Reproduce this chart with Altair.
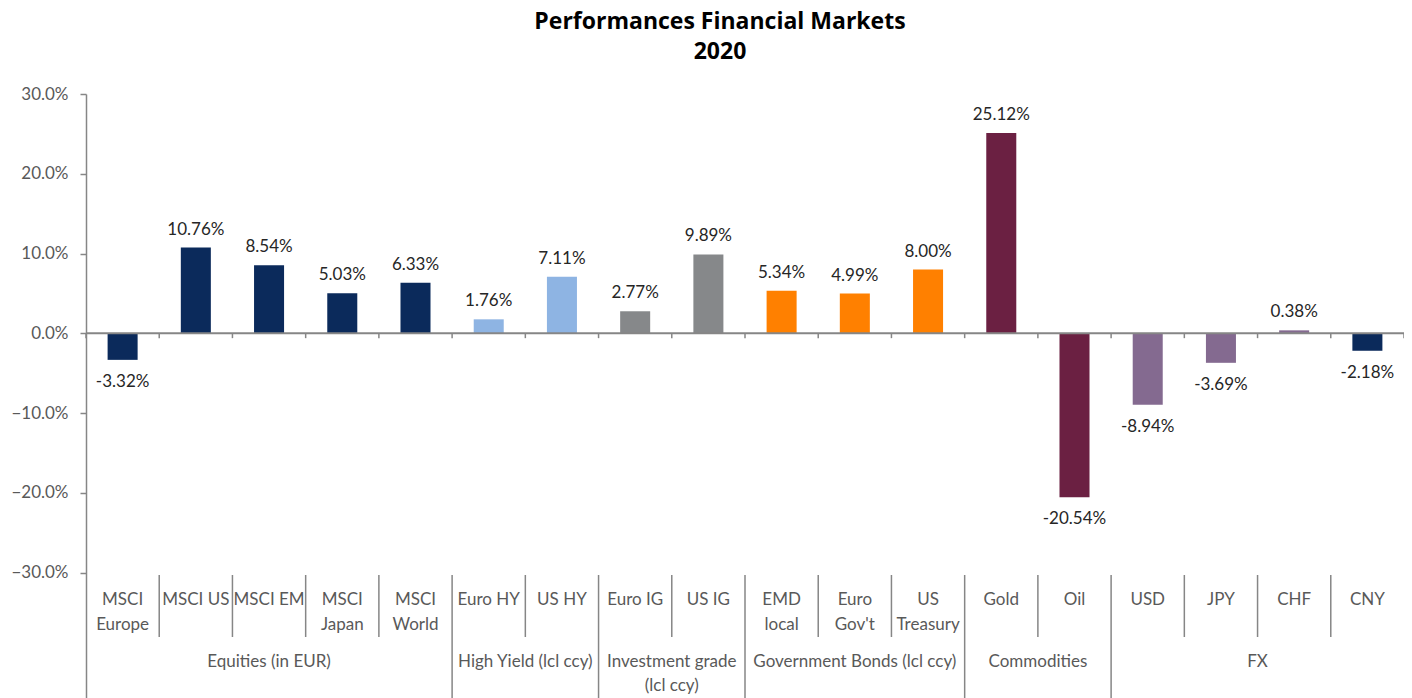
import altair as alt
import pandas as pd

categories = ["MSCI\nEurope", "MSCI US", "MSCI EM", "MSCI\nJapan", "MSCI\nWorld",
              "Euro HY", "US HY", "Euro IG", "US IG",
              "EMD\nlocal", "Euro\nGov't", "US\nTreasury",
              "Gold", "Oil", "USD", "JPY", "CHF", "CNY"]
values = [-3.32, 10.76, 8.54, 5.03, 6.33, 1.76, 7.11, 2.77, 9.89,
          5.34, 4.99, 8.00, 25.12, -20.54, -8.94, -3.69, 0.38, -2.18]
groups = ["Equities (in EUR)", "High Yield (lcl ccy)", "Investment grade\n(lcl ccy)",
          "Government Bonds (lcl ccy)", "Commodities", "FX"]
group_sizes = [5, 2, 2, 3, 2, 4]
y_ticks = [-0.3, -0.2, -0.1, 0.0, 0.1, 0.2, 0.3]

bar_colors = ["#0b2a5b"] * 5 + ["#8eb4e3"] * 2 + ["#86888a"] * 2 + ["#ff8000"] * 3 + \
             ["#6b2042"] * 2 + ["#846a90"] * 3 + ["#0b2a5b"]

FONT = "Lato"
FS = 17
W, H = 1318, 604
PX_PER_UNIT = 797.9
y_top = 0.30
y_bottom = y_top - H / PX_PER_UNIT

n = len(categories)
df = pd.DataFrame({
    "cat": categories,
    "value": [v / 100 for v in values],
    "idx": list(range(n)),
})
df["center"] = df["idx"] + 0.5
df["x0"] = df["idx"] + 0.5 - 0.205
df["x1"] = df["idx"] + 0.5 + 0.205
df["label"] = [f"{v:.2f}%" for v in values]
df["color"] = bar_colors

starts = []
s = 0
for g in group_sizes:
    starts.append(s)
    s += g
gdf = pd.DataFrame({"group": groups, "start": starts, "size": group_sizes})
gdf["center"] = gdf["start"] + gdf["size"] / 2

group_bounds = set(starts[1:])
short_b = [b for b in range(1, n) if b not in group_bounds]
long_b = sorted(group_bounds)
sep_short = pd.DataFrame({"b": short_b})
sep_long = pd.DataFrame({"b": long_b})
ticks_df = pd.DataFrame({"b": list(range(0, n + 1))})

xs = alt.Scale(domain=[0, n], nice=False, zero=False)
ys = alt.Scale(domain=[y_bottom, y_top], nice=False, zero=False)

base = alt.Chart(df)

bars = base.mark_bar().encode(
    x=alt.X("x0:Q", scale=xs, axis=None),
    x2="x1:Q",
    y=alt.Y("value:Q", scale=ys,
            axis=alt.Axis(values=y_ticks, format=".1%", grid=False, title=None,
                          domainColor="#868686", domainWidth=1.5, tickColor="#868686",
                          tickSize=6, tickWidth=1.5, labelColor="#595959", labelFont=FONT,
                          labelFontSize=FS, labelPadding=12)),
    y2=alt.datum(0),
    color=alt.Color("color:N", scale=None),
)

pos_labels = base.transform_filter("datum.value >= 0").mark_text(
    font=FONT, fontSize=FS, color="#262626", baseline="alphabetic", dy=-13
).encode(x=alt.X("center:Q", scale=xs), y=alt.Y("value:Q", scale=ys), text="label:N")

neg_labels = base.transform_filter("datum.value < 0").mark_text(
    font=FONT, fontSize=FS, color="#262626", baseline="top", dy=14
).encode(x=alt.X("center:Q", scale=xs), y=alt.Y("value:Q", scale=ys), text="label:N")

zero_line = alt.Chart(ticks_df).mark_rule(color="#868686", strokeWidth=2).encode(
    x=alt.datum(0, scale=xs), x2=alt.datum(n), y=alt.datum(0, scale=ys)
).transform_filter("datum.b == 0")

zero_ticks = alt.Chart(ticks_df).mark_rule(color="#868686", strokeWidth=1.5).encode(
    x=alt.X("b:Q", scale=xs), y=alt.datum(0, scale=ys), y2=alt.datum(-0.006)
)

short_lines = alt.Chart(sep_short).mark_rule(color="#868686", strokeWidth=1.5).encode(
    x=alt.X("b:Q", scale=xs), y=alt.value(481), y2=alt.value(543)
)
long_lines = alt.Chart(sep_long).mark_rule(color="#868686", strokeWidth=1.5).encode(
    x=alt.X("b:Q", scale=xs), y=alt.value(481), y2=alt.value(H)
)

cat_labels = base.mark_text(
    font=FONT, fontSize=FS, color="#595959", baseline="middle", lineBreak="\n", lineHeight=25
).encode(x=alt.X("center:Q", scale=xs), y=alt.value(506), text="cat:N")

grp_labels = alt.Chart(gdf).mark_text(
    font=FONT, fontSize=FS, color="#595959", baseline="middle", lineBreak="\n", lineHeight=24
).encode(x=alt.X("center:Q", scale=xs), y=alt.value(568), text="group:N")

chart = alt.layer(
    bars, zero_line, zero_ticks, pos_labels, neg_labels,
    short_lines, long_lines, cat_labels, grp_labels
).properties(
    width=W, height=H,
    title=alt.TitleParams(["Performances Financial Markets", "2020"], font="Open Sans",
                          fontSize=23, fontWeight="bold", color="black",
                          anchor="middle", dx=-25, offset=21, lineHeight=30),
    autosize=alt.AutoSizeParams(type="none"),
    padding={"left": 78, "top": 86, "right": 0, "bottom": 0},
).configure_view(stroke=None)

chart.save("out.html", embed_options={"renderer": "svg", "actions": False})
